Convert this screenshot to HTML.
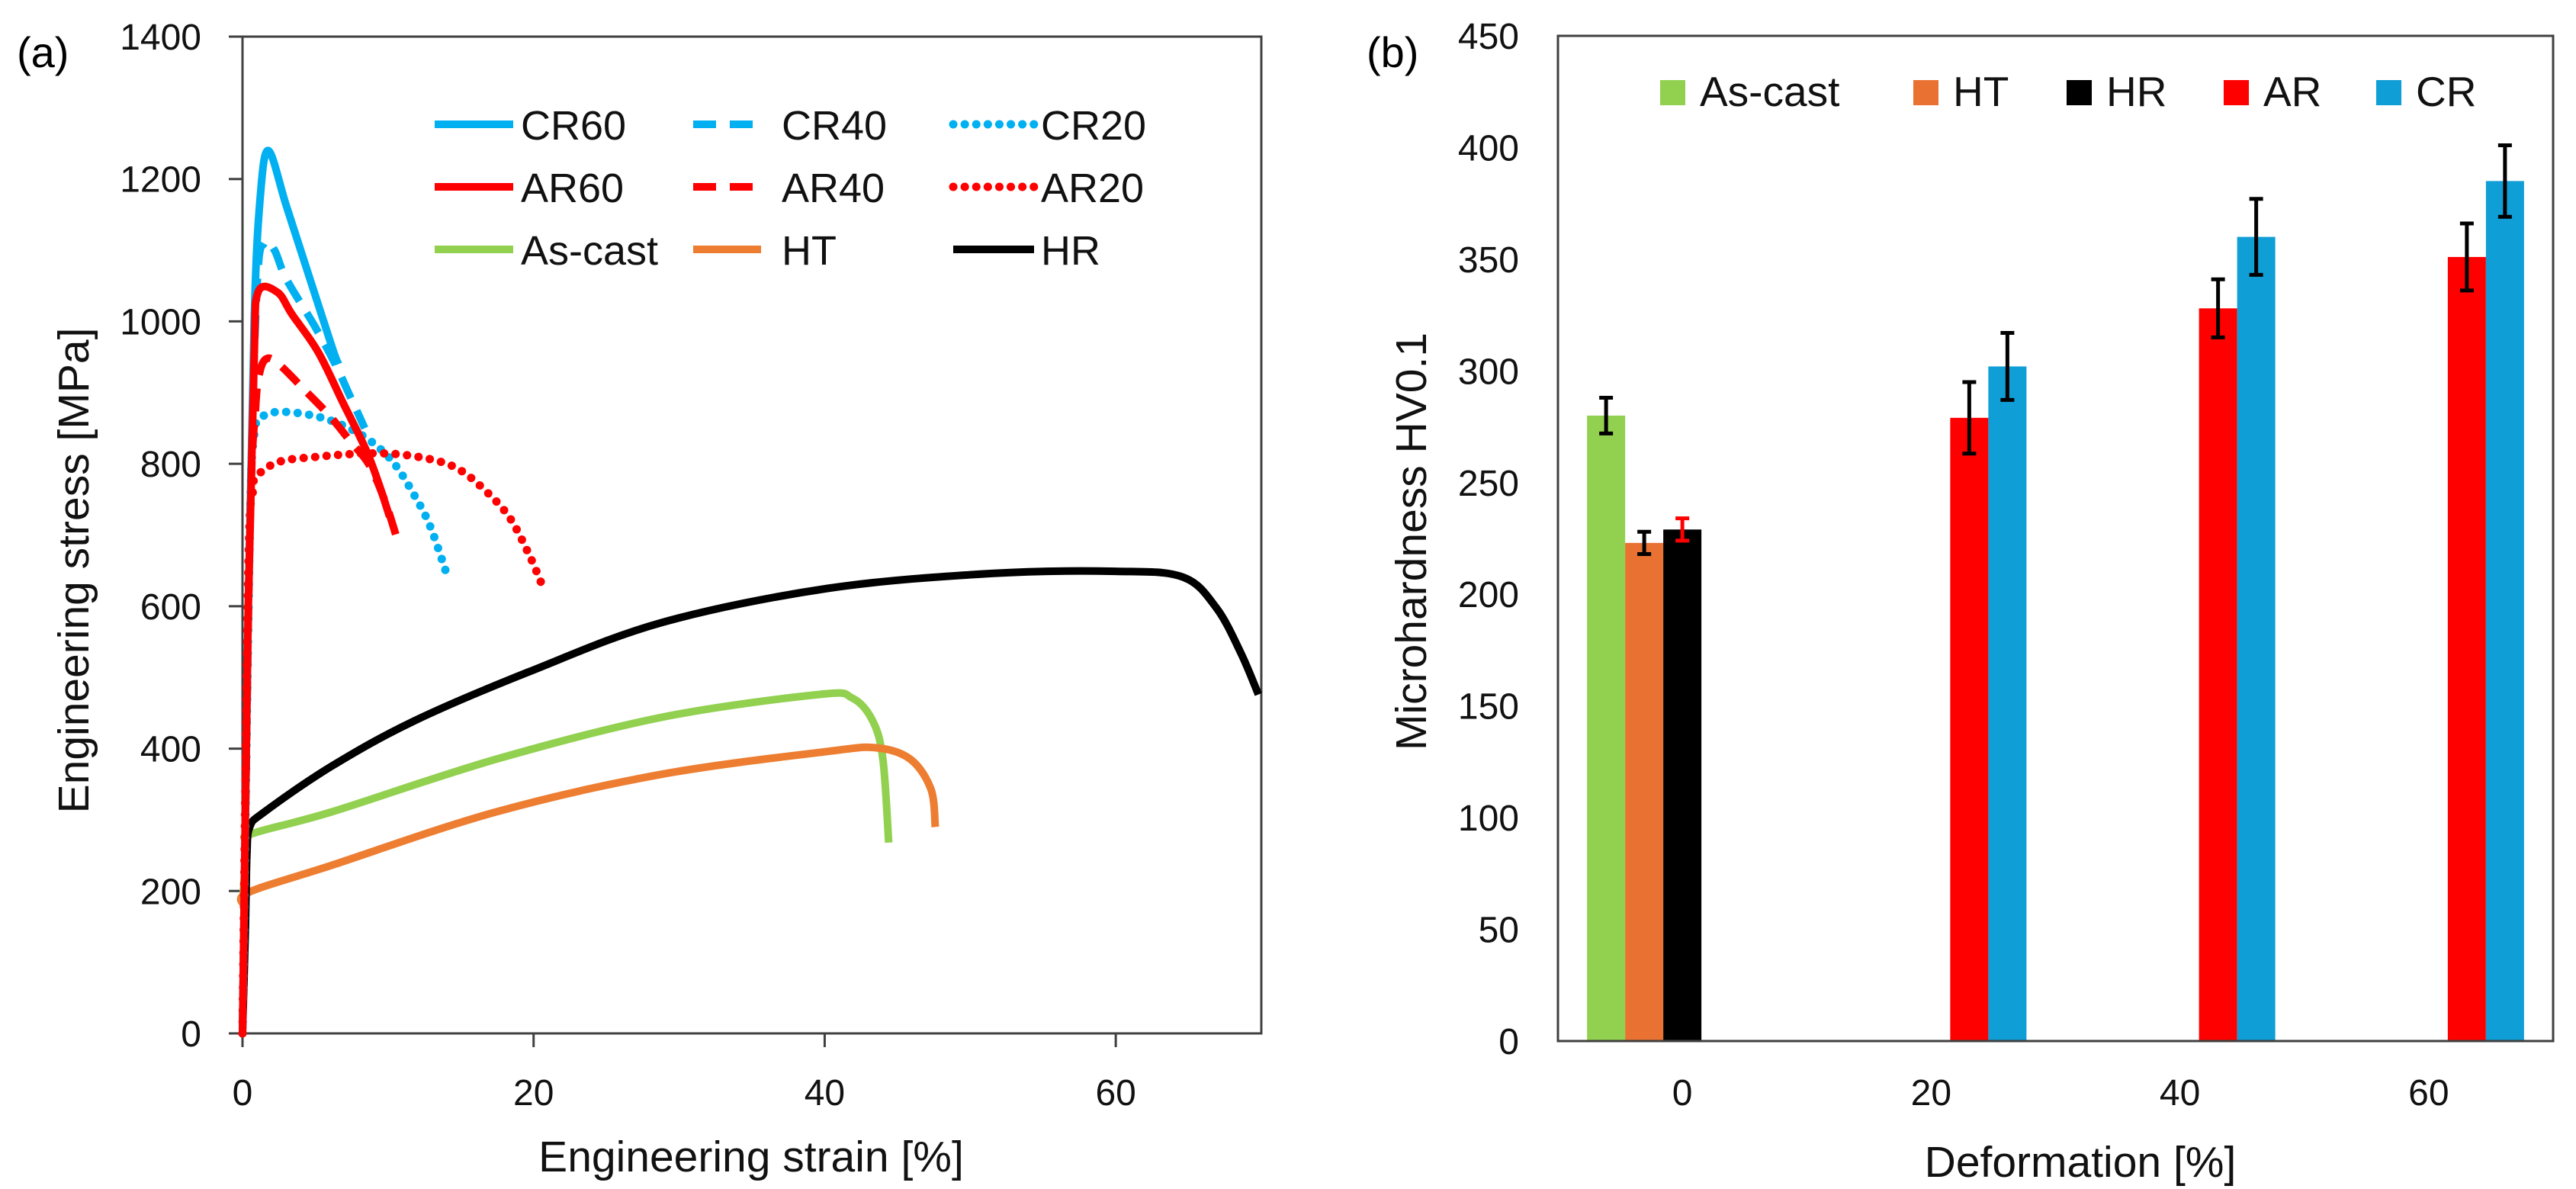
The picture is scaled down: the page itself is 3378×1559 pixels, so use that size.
<!DOCTYPE html>
<html><head><meta charset="utf-8">
<style>
html,body{margin:0;padding:0;background:#fff;}
svg{display:block;font-family:"Liberation Sans",Arial,sans-serif;}
</style></head>
<body>
<svg id="fig" width="3378" height="1559" viewBox="0 0 3378 1559" xmlns="http://www.w3.org/2000/svg">
<rect width="3378" height="1559" fill="#fff"/>
<g id="pa"></g>
<g id="pb"></g>
</svg>
<script>
// ---------- Panel (a) data ----------
const strainTicks = [0, 20, 40, 60];
const stressTicks = [0, 200, 400, 600, 800, 1000, 1200, 1400];
const curveNames = ["As-cast", "HT", "HR", "CR20", "AR20", "CR40", "AR40", "CR60", "AR60"];
const asCast = [[0,180],[0.3,265],[0.6,280],[6.1,311],[17.4,385],[28.8,444],[39.6,476],[41.9,471],[43.3,439],[44.0,385],[44.4,268]];
const ht = [[0.1,180],[0.4,198],[6.1,236],[17.4,311],[28.8,364],[40.2,396],[43.6,401],[45.9,385],[47.3,343],[47.6,290]];
const hr = [[0,0],[0.2,150],[0.3,250],[0.5,290],[1.5,311],[6.1,375],[11.8,439],[19.7,508],[28.8,577],[40.2,625],[51.5,646],[60,649],[64.6,641],[66.9,598],[68.6,534],[69.8,476]];
const cr20 = [[0,0],[0.5,700],[0.8,840],[1.3,865],[2.5,873],[4.8,868],[6.9,854],[8.8,832],[10.4,801],[11.8,756],[12.9,712],[14.1,641]];
const ar20 = [[0,0],[0.4,650],[0.7,760],[1.0,783],[2.55,803],[5.2,810],[7.8,814],[10.4,814],[13.0,806],[14.8,793],[16.5,766],[18.3,726],[19.7,672],[20.7,624]];
const cr40 = [[0,0],[0.5,700],[1.0,1050],[1.5,1110],[2.2,1100],[3,1060],[5.0,992],[6.4,939],[7.3,899],[8.0,868],[8.4,850]];
const ar40 = [[0,0],[0.5,700],[0.9,880],[1.2,930],[1.7,948],[2.55,939],[4.3,903],[6.0,867],[7.4,832],[8.5,805],[9.2,778],[10.0,735],[10.7,689]];
const cr60 = [[0,0],[0.4,600],[0.8,1000],[1.2,1170],[1.77,1240],[3,1163],[4.5,1068],[6.2,961],[6.6,940]];
const ar60 = [[0,0],[0.4,600],[0.8,950],[1.07,1041],[2.4,1041],[3.4,1010],[5.2,957],[6.9,886],[8.5,819],[9.4,770],[10.1,726]];

// ---------- Panel (b) data ----------
const defCategories = ["0", "20", "40", "60"];
const hvSeries = ["As-cast", "HT", "HR", "AR", "CR"];
const hvAsCast = [280, null, null, null];
const hvHT = [223, null, null, null];
const hvHR = [229, null, null, null];
const hvAR = [null, 279, 328, 351];
const hvCR = [null, 302, 360, 385];
const errAsCast = [8, 0, 0, 0];
const errHT = [5, 0, 0, 0];
const errHR = [5, 0, 0, 0];
const errAR = [0, 16, 13, 15];
const errCR = [0, 15, 17, 16];
const hvTicks = [0, 50, 100, 150, 200, 250, 300, 350, 400, 450];

const NS = "http://www.w3.org/2000/svg";
function mk(parent, tag, attrs, text) {
  const e = document.createElementNS(NS, tag);
  for (const k in attrs) e.setAttribute(k, attrs[k]);
  if (text !== undefined) e.textContent = text;
  parent.appendChild(e);
  return e;
}
function smoothPath(pts) {
  let d = 'M' + pts[0][0].toFixed(1) + ',' + pts[0][1].toFixed(1);
  for (let i = 0; i < pts.length - 1; i++) {
    const p0 = pts[i - 1] || pts[i], p1 = pts[i], p2 = pts[i + 1], p3 = pts[i + 2] || p2;
    const c1x = p1[0] + (p2[0] - p0[0]) / 6, c1y = p1[1] + (p2[1] - p0[1]) / 6;
    const c2x = p2[0] - (p3[0] - p1[0]) / 6, c2y = p2[1] - (p3[1] - p1[1]) / 6;
    d += ' C' + c1x.toFixed(1) + ',' + c1y.toFixed(1) + ' ' + c2x.toFixed(1) + ',' + c2y.toFixed(1) + ' ' + p2[0].toFixed(1) + ',' + p2[1].toFixed(1);
  }
  return d;
}

// ---------- Panel (a) ----------
(function(){
  const g = document.getElementById('pa');
  const L = 318, R = 1654, T = 48, B = 1355;
  const xS = v => L + (v / 70) * (R - L);
  const yS = v => B - (v / 1400) * (B - T);

  const lbl = mk(g, 'text', {x: 22, y: 88, 'font-size': 56}, '(a)');
  
  

  const frame = mk(g, 'rect', {x: L, y: T, width: R - L, height: B - T, fill: 'none', stroke: '#404040', 'stroke-width': 3});
  
  

  stressTicks.forEach(v => {
    const y = yS(v);
    mk(g, 'line', {x1: L - 18, x2: L, y1: y, y2: y, stroke: '#404040', 'stroke-width': 3});
    const t = mk(g, 'text', {x: 264, y: y + 17, 'font-size': 48, 'text-anchor': 'end', fill: '#111'}, String(v));
    
    
  });
  strainTicks.forEach(v => {
    const x = xS(v);
    mk(g, 'line', {x1: x, x2: x, y1: B, y2: B + 18, stroke: '#404040', 'stroke-width': 3});
    const t = mk(g, 'text', {x: x, y: 1449, 'font-size': 48, 'text-anchor': 'middle', fill: '#111'}, String(v));
    
    
  });
  const xt = mk(g, 'text', {x: 985, y: 1536, 'font-size': 57, 'text-anchor': 'middle', fill: '#111'}, 'Engineering strain [%]');
  
  
  const yt = mk(g, 'text', {x: 0, y: 0, 'font-size': 57, 'text-anchor': 'middle', fill: '#111', transform: 'translate(116,748) rotate(-90)'}, 'Engineering stress [MPa]');
  
  

  const BLUE = '#00b0f0', RED = '#ff0000', GREEN = '#92d050', ORANGE = '#ed7d31';
  const solid = '', dash = '30 18', dot = '0.1 15';
  const styles = {
    'As-cast': [asCast, GREEN, solid], 'HT': [ht, ORANGE, solid], 'HR': [hr, '#000', solid],
    'CR20': [cr20, BLUE, dot], 'AR20': [ar20, RED, dot], 'CR40': [cr40, BLUE, dash],
    'AR40': [ar40, RED, dash], 'CR60': [cr60, BLUE, solid], 'AR60': [ar60, RED, solid]
  };
  curveNames.forEach(n => {
    const [data, col, da] = styles[n];
    const pts = data.map(p => [xS(p[0]), yS(p[1])]);
    const attrs = {d: smoothPath(pts), fill: 'none', stroke: col, 'stroke-width': da === dot ? 11 : 10, 'stroke-linejoin': 'round', 'stroke-linecap': da === dot ? 'round' : 'butt'};
    if (da) attrs['stroke-dasharray'] = da;
    const p = mk(g, 'path', attrs);
    
    
  });

  const leg = [
    ['CR60', BLUE, solid], ['CR40', BLUE, dash], ['CR20', BLUE, dot],
    ['AR60', RED, solid], ['AR40', RED, dash], ['AR20', RED, dot],
    ['As-cast', GREEN, solid], ['HT', ORANGE, solid], ['HR', '#000', solid]
  ];
  const colX = [[570, 673, 683], [909, 998, 1025], [1250, 1356, 1365]];
  const rowY = [163, 245, 327];
  const lg = mk(g, 'g', {});
  
  
  leg.forEach((e, i) => {
    const c = colX[i % 3], y = rowY[Math.floor(i / 3)];
    const attrs = {x1: c[0], x2: c[1], y1: y, y2: y, stroke: e[1], 'stroke-width': e[2] === dot ? 11 : 10, 'stroke-linecap': e[2] === dot ? 'round' : 'butt'};
    if (e[2]) attrs['stroke-dasharray'] = e[2];
    mk(lg, 'line', attrs);
    const t = mk(lg, 'text', {x: c[2], y: y + 20, 'font-size': 54, fill: '#111'}, e[0]);
    
    
  });
})();

// ---------- Panel (b) ----------
(function(){
  const g = document.getElementById('pb');
  const L = 2043, R = 3348, T = 47, B = 1365;
  const yS = v => B - (v / 450) * (B - T);
  const catW = (R - L) / defCategories.length;
  const barW = 50;
  const cx = i => L + catW * (i + 0.5);

  const lbl = mk(g, 'text', {x: 1792, y: 88, 'font-size': 56}, '(b)');
  
  

  hvTicks.forEach(v => {
    const t = mk(g, 'text', {x: 1992, y: yS(v) + 17, 'font-size': 48, 'text-anchor': 'end', fill: '#111'}, String(v));
    
    
  });
  defCategories.forEach((c, i) => {
    const t = mk(g, 'text', {x: cx(i), y: 1449, 'font-size': 48, 'text-anchor': 'middle', fill: '#111'}, c);
    
    
  });
  const xt = mk(g, 'text', {x: 2728, y: 1543, 'font-size': 57, 'text-anchor': 'middle', fill: '#111'}, 'Deformation [%]');
  
  
  const yt = mk(g, 'text', {x: 0, y: 0, 'font-size': 57, 'text-anchor': 'middle', fill: '#111', transform: 'translate(1870,710) rotate(-90)'}, 'Microhardness  HV0.1');
  
  

  const cols = ['#92d050', '#e97132', '#000000', '#ff0000', '#0f9ed5'];
  const vals = [hvAsCast, hvHT, hvHR, hvAR, hvCR];
  const errs = [errAsCast, errHT, errHR, errAR, errCR];
  const errCol = ['#000', '#000', '#ff0000', '#000', '#000'];
  vals.forEach((arr, s) => {
    arr.forEach((v, i) => {
      if (v === null) return;
      const x = cx(i) + (s - 2) * barW - barW / 2;
      const r = mk(g, 'rect', {x: x, y: yS(v), width: barW, height: B - yS(v), fill: cols[s]});
      
      
      const e = errs[s][i];
      if (e) {
        const xm = x + barW / 2, y1 = yS(v + e), y2 = yS(v - e);
        const eg = mk(g, 'g', {stroke: errCol[s], 'stroke-width': 5});
        
        
        mk(eg, 'line', {x1: xm, x2: xm, y1: y1, y2: y2});
        mk(eg, 'line', {x1: xm - 9, x2: xm + 9, y1: y1, y2: y1});
        mk(eg, 'line', {x1: xm - 9, x2: xm + 9, y1: y2, y2: y2});
      }
    });
  });
  const frame = mk(g, 'rect', {x: L, y: T, width: R - L, height: B - T, fill: 'none', stroke: '#404040', 'stroke-width': 3});
  
  

  const legX = [2177, 2509, 2710, 2916, 3116];
  const lg = mk(g, 'g', {});
  
  
  hvSeries.forEach((n, s) => {
    mk(lg, 'rect', {x: legX[s], y: 105, width: 33, height: 33, fill: cols[s]});
    const t = mk(lg, 'text', {x: legX[s] + 52, y: 139, 'font-size': 55, fill: '#111'}, n);
    
    
  });
})();
</script>
</body></html>
